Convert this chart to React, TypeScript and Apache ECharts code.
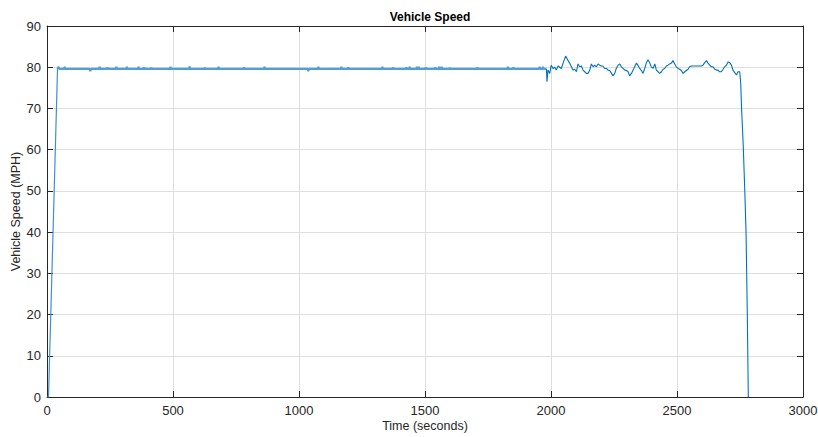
import React, { useEffect, useRef } from "react";
import * as echarts from "echarts";

// Tick values
const xTicks = [0, 500, 1000, 1500, 2000, 2500, 3000];
const yTicks = [0, 10, 20, 30, 40, 50, 60, 70, 80, 90];

// Start-up ramp (seconds, mph)
const rampTime = [0, 6, 42];
const rampSpeed = [0, 0, 80.1];

// Cruise-control section: baseline speed and brief excursions
const cruiseStart = 42;
const cruiseEnd = 1982;
const cruiseSpeed = 79.6;
const blipTime = [46, 70, 172, 209, 240, 275, 317, 363, 385, 414, 490, 566, 626, 681, 782, 863, 1037, 1077, 1168, 1196, 1331, 1373, 1426, 1439, 1468, 1475, 1503, 1541, 1556, 1566, 1598, 1708, 1829, 1851, 1955, 1968];
const blipSpeed = [80.1, 80.1, 79.0, 80.1, 80.0, 80.1, 80.1, 80.1, 80.0, 79.9, 80.1, 80.2, 79.9, 80.1, 80.0, 80.1, 79.0, 80.1, 80.1, 80.0, 80.1, 80.0, 80.0, 80.1, 80.1, 80.1, 80.0, 80.0, 80.1, 80.1, 79.9, 80.0, 80.1, 80.0, 80.1, 80.1];

// Variable-speed section and final stop
const varTime = [1982, 1984, 1988, 1995, 2001, 2008, 2015, 2021, 2028, 2035, 2041, 2048, 2058, 2068, 2074, 2081, 2087, 2094, 2101, 2107, 2114, 2121, 2127, 2134, 2140, 2147, 2154, 2160, 2167, 2173, 2180, 2187, 2193, 2200, 2206, 2213, 2220, 2226, 2233, 2240, 2246, 2253, 2259, 2266, 2273, 2279, 2286, 2293, 2299, 2306, 2312, 2319, 2326, 2332, 2339, 2345, 2352, 2359, 2365, 2372, 2378, 2385, 2392, 2398, 2405, 2412, 2418, 2425, 2431, 2438, 2445, 2451, 2458, 2464, 2471, 2478, 2484, 2491, 2497, 2504, 2511, 2517, 2524, 2531, 2537, 2544, 2550, 2557, 2564, 2577, 2590, 2597, 2603, 2610, 2617, 2623, 2630, 2636, 2643, 2650, 2656, 2663, 2669, 2676, 2683, 2689, 2696, 2703, 2709, 2716, 2722, 2729, 2736, 2742, 2749, 2753, 2756, 2763, 2769, 2774, 2779, 2783];
const varSpeed = [79.6, 76.5, 79.3, 78.5, 80.5, 79.7, 80.0, 79.3, 80.3, 80.0, 79.7, 81.0, 82.7, 81.6, 81.0, 80.1, 79.3, 79.5, 78.9, 80.8, 80.1, 80.3, 79.3, 78.9, 78.5, 78.5, 79.3, 80.8, 80.1, 80.5, 80.1, 80.8, 80.5, 80.3, 80.3, 79.7, 79.7, 79.3, 79.2, 78.5, 77.9, 78.5, 79.7, 80.5, 80.8, 80.1, 79.7, 79.3, 79.2, 78.9, 77.9, 78.5, 79.3, 80.1, 81.0, 80.5, 79.7, 79.2, 78.5, 79.7, 81.0, 81.8, 81.0, 80.1, 79.7, 80.8, 79.3, 78.9, 78.5, 78.9, 79.5, 79.7, 80.3, 80.5, 80.8, 81.0, 81.6, 80.8, 80.1, 79.7, 79.5, 79.2, 78.5, 78.9, 79.2, 79.5, 80.1, 80.3, 80.3, 80.3, 80.3, 80.3, 80.5, 81.1, 81.6, 81.0, 80.5, 80.1, 80.1, 79.5, 79.3, 79.3, 78.9, 78.9, 79.5, 80.1, 80.5, 81.3, 81.1, 80.5, 79.3, 78.7, 78.1, 78.9, 78.9, 76.0, 70.4, 60.7, 50.0, 40.0, 20.0, 0.0];

const LINE = "#0072BD";
const AXIS = "#262626";
const GRIDC = "#dedede";
const FONT = "'Liberation Sans', Arial, Helvetica, sans-serif";

function buildCruise(): [number, number][] {
  const pts: [number, number][] = [[cruiseStart, cruiseSpeed]];
  blipTime.forEach((t, i) => {
    pts.push([t - 2, cruiseSpeed]);
    pts.push([t, blipSpeed[i]]);
    pts.push([t + 2, cruiseSpeed]);
  });
  pts.push([cruiseEnd, cruiseSpeed]);
  return pts;
}

export default function App() {
  const ref = useRef<HTMLDivElement>(null);
  useEffect(() => {
    if (!ref.current) return;
    const chart = echarts.init(ref.current, null, { renderer: "svg" });
    const ramp = rampTime.map((t, i) => [t, rampSpeed[i]]);
    const vary = varTime.map((t, i) => [t, varSpeed[i]]);
    const baseAxisX = {
      type: "value",
      min: xTicks[0],
      max: xTicks[xTicks.length - 1],
      interval: 500,
    };
    const baseAxisY = {
      type: "value",
      min: yTicks[0],
      max: yTicks[yTicks.length - 1],
      interval: 10,
    };
    chart.setOption({
      animation: false,
      backgroundColor: "#ffffff",
      title: {
        text: "Vehicle Speed",
        left: 425,
        top: 6,
        textAlign: "center",
        textStyle: { fontFamily: FONT, fontSize: 12, fontWeight: "bold", color: "#000" },
      },
      grid: { left: 47, top: 26, right: 15, bottom: 40, containLabel: false, outerBoundsMode: "none" },
      xAxis: [
        {
          ...baseAxisX,
          position: "bottom",
          name: "Time (seconds)",
          nameLocation: "middle",
          nameGap: 22,
          nameMoveOverlap: false,
          nameTextStyle: { fontFamily: FONT, fontSize: 12.5, color: AXIS },
          axisLine: { show: true, onZero: false, lineStyle: { color: AXIS, width: 1 } },
          axisTick: { show: true, inside: true, length: 6, lineStyle: { color: AXIS } },
          axisLabel: { fontFamily: FONT, fontSize: 13, color: AXIS, margin: 7, formatter: (v: number) => String(v) },
          splitLine: { show: true, lineStyle: { color: GRIDC, width: 1 } },
        },
        {
          ...baseAxisX,
          position: "top",
          axisLine: { show: true, onZero: false, lineStyle: { color: AXIS, width: 1 } },
          axisTick: { show: true, inside: true, length: 6, lineStyle: { color: AXIS } },
          axisLabel: { show: false },
          splitLine: { show: false },
        },
      ],
      yAxis: [
        {
          ...baseAxisY,
          position: "left",
          name: "Vehicle Speed (MPH)",
          nameLocation: "middle",
          nameGap: 25,
          nameMoveOverlap: false,
          nameTextStyle: { fontFamily: FONT, fontSize: 12.5, color: AXIS },
          axisLine: { show: true, onZero: false, lineStyle: { color: AXIS, width: 1 } },
          axisTick: { show: true, inside: true, length: 6, lineStyle: { color: AXIS } },
          axisLabel: { fontFamily: FONT, fontSize: 13, color: AXIS, margin: 6 },
          splitLine: { show: true, lineStyle: { color: GRIDC, width: 1 } },
        },
        {
          ...baseAxisY,
          position: "right",
          axisLine: { show: true, onZero: false, lineStyle: { color: AXIS, width: 1 } },
          axisTick: { show: true, inside: true, length: 6, lineStyle: { color: AXIS } },
          axisLabel: { show: false },
          splitLine: { show: false },
        },
      ],
      series: [
        {
          type: "line",
          name: "ramp",
          data: ramp,
          showSymbol: false,
          lineStyle: { color: "#3d8fd1", width: 1.2 },
          z: 3,
        },
        {
          type: "line",
          name: "cruise",
          data: buildCruise(),
          showSymbol: false,
          lineStyle: { color: "#4f9fdc", width: 2.2 },
          z: 3,
        },
        {
          type: "line",
          name: "variable",
          data: vary,
          showSymbol: false,
          lineStyle: { color: LINE, width: 1.1 },
          z: 3,
        },
      ],
    });
    return () => chart.dispose();
  }, []);
  return (
    <div
      ref={ref}
      style={{ position: "fixed", left: 0, top: 0, width: 818, height: 437, background: "#fff" }}
    />
  );
}
